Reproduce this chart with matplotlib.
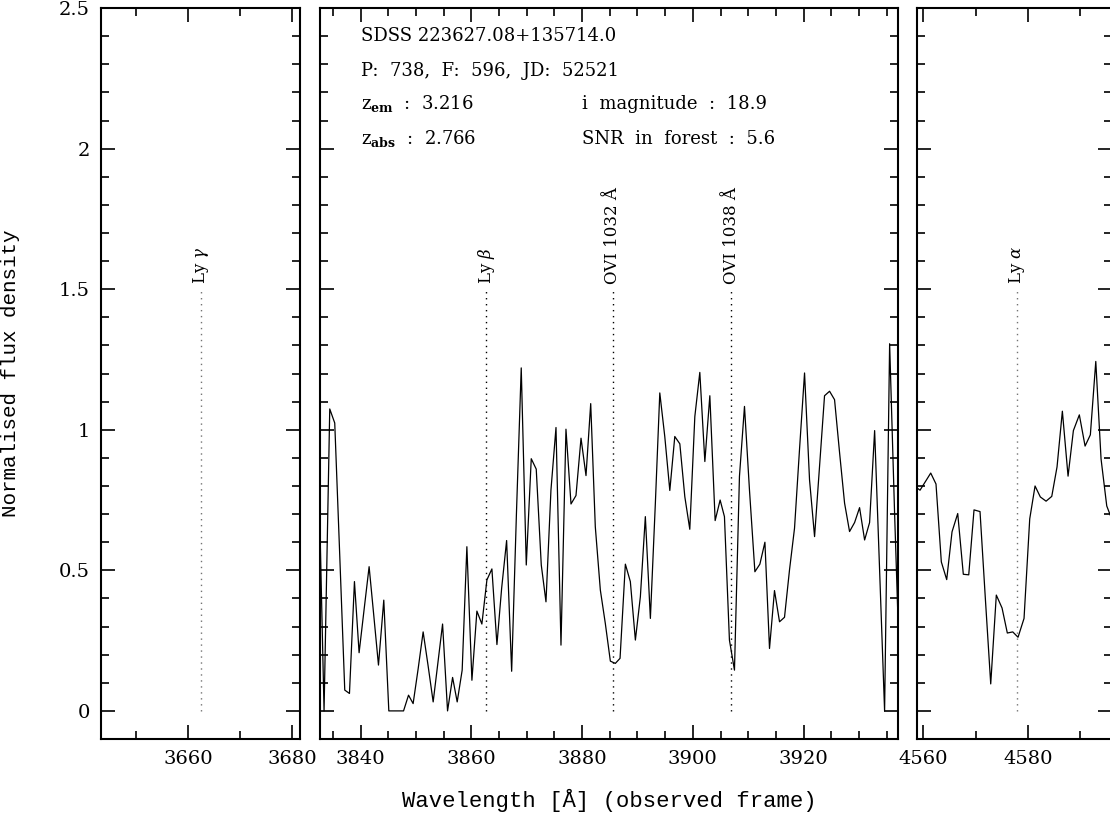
import matplotlib.pyplot as plt
from matplotlib.ticker import MultipleLocator

plt.rcParams['font.family'] = 'DejaVu Serif'
plt.rcParams['mathtext.fontset'] = 'dejavuserif'

# spectrum around the OVI / Ly beta window (observed wavelength [A], normalised flux)
wave_mid = [3831.9, 3833.38, 3834.41, 3835.31, 3836.22, 3837.12, 3837.97, 3838.87,
            3839.71, 3840.61, 3841.52, 3842.36, 3843.21, 3844.17, 3845.08, 3845.98,
            3846.89, 3847.74, 3848.64, 3849.47, 3850.38, 3851.28, 3852.18, 3853.09,
            3853.94, 3854.79, 3855.69, 3856.60, 3857.43, 3858.33, 3859.18, 3860.09,
            3860.99, 3861.89, 3862.80, 3863.70, 3864.61, 3865.46, 3866.36, 3867.27,
            3868.13, 3869.00, 3869.91, 3870.81, 3871.71, 3872.62, 3873.47, 3874.37,
            3875.28, 3876.18, 3877.08, 3877.99, 3878.89, 3879.80, 3880.70, 3881.55,
            3882.38, 3883.29, 3884.19, 3885.10, 3886.00, 3886.85, 3887.81, 3888.71,
            3889.62, 3890.52, 3891.42, 3892.33, 3893.23, 3894.03, 3894.93, 3895.84,
            3896.74, 3897.65, 3898.55, 3899.45, 3900.36, 3901.26, 3902.17, 3903.07,
            3904.03, 3904.93, 3905.71, 3906.61, 3907.52, 3908.42, 3909.33, 3910.23,
            3911.21, 3912.11, 3913.02, 3913.85, 3914.75, 3915.66, 3916.56, 3917.46,
            3918.37, 3919.27, 3920.18, 3921.08, 3921.99, 3922.89, 3923.79, 3924.70,
            3925.60, 3926.50, 3927.41, 3928.31, 3929.22, 3930.12, 3931.03, 3931.93,
            3932.84, 3933.74, 3934.64, 3935.55, 3936.45, 3937.35]
flux_mid = [1.30, 0.00, 1.074, 1.024, 0.55, 0.074, 0.062, 0.46,
            0.207, 0.36, 0.513, 0.34, 0.163, 0.394, 0.00, 0.00,
            0.00, 0.00, 0.056, 0.026, 0.15, 0.281, 0.16, 0.032,
            0.17, 0.309, 0.00, 0.119, 0.032, 0.145, 0.584, 0.109,
            0.355, 0.309, 0.466, 0.505, 0.236, 0.436, 0.606, 0.141,
            0.70, 1.22, 0.519, 0.897, 0.86, 0.519, 0.388, 0.786,
            1.008, 0.234, 1.002, 0.736, 0.766, 0.97, 0.837, 1.093,
            0.655, 0.43, 0.311, 0.177, 0.169, 0.187, 0.522, 0.46,
            0.252, 0.406, 0.691, 0.329, 0.739, 1.131, 0.976, 0.784,
            0.976, 0.95, 0.762, 0.646, 1.047, 1.204, 0.887, 1.121,
            0.677, 0.75, 0.691, 0.252, 0.145, 0.834, 1.083, 0.786,
            0.495, 0.522, 0.60, 0.222, 0.428, 0.317, 0.333, 0.501,
            0.65, 0.93, 1.202, 0.822, 0.62, 0.87, 1.121, 1.137,
            1.107, 0.92, 0.739, 0.638, 0.67, 0.723, 0.608, 0.67,
            0.997, 0.50, 0.00, 1.306, 0.70, 0.15]

# spectrum around Ly alpha
wave_red = [4558.30, 4559.37, 4560.38, 4561.42, 4562.43, 4563.45, 4564.48, 4565.50,
            4566.59, 4567.66, 4568.70, 4569.71, 4570.86, 4571.88, 4572.91, 4573.98,
            4575.08, 4576.09, 4577.13, 4578.14, 4579.29, 4580.38, 4581.40, 4582.41,
            4583.51, 4584.60, 4585.61, 4586.63, 4587.72, 4588.74, 4589.88, 4590.98,
            4591.99, 4593.03, 4594.04, 4595.13, 4596.14, 4597.2]
flux_red = [0.80, 0.785, 0.815, 0.846, 0.807, 0.53, 0.467, 0.637,
            0.702, 0.486, 0.484, 0.715, 0.709, 0.40, 0.096, 0.412,
            0.366, 0.277, 0.281, 0.262, 0.329, 0.683, 0.80, 0.761,
            0.746, 0.763, 0.868, 1.066, 0.835, 0.997, 1.053, 0.942,
            0.982, 1.243, 0.896, 0.729, 0.68, 0.70]

# absorber lines at z_abs = 2.766 (observed positions)
line_names = [r"Ly $\gamma$", r"Ly $\beta$", "OVI 1032 Å", "OVI 1038 Å", r"Ly $\alpha$"]
line_waves = [3662.5, 3862.7, 3885.5, 3906.9, 4577.9]

info_left = ["SDSS 223627.08+135714.0", "P:  738,  F:  596,  JD:  52521",
             r"z$_{\mathbf{em}}$  :  3.216", r"z$_{\mathbf{abs}}$  :  2.766"]
info_left_y = [2.40, 2.275, 2.16, 2.035]
info_right = ["i  magnitude  :  18.9", "SNR  in  forest  :  5.6"]
info_right_y = [2.16, 2.035]

fig = plt.figure(figsize=(11.1, 8.13), dpi=100)
ax1 = fig.add_axes([0.0910, 0.0910, 0.1793, 0.8991])
ax2 = fig.add_axes([0.2883, 0.0910, 0.5204, 0.8991])
ax3 = fig.add_axes([0.8264, 0.0910, 0.1750, 0.8991])


def style(ax, xlim, minor, labels=False):
    ax.set_xlim(*xlim)
    ax.set_ylim(-0.1, 2.5)
    ax.xaxis.set_major_locator(MultipleLocator(20))
    ax.xaxis.set_minor_locator(MultipleLocator(minor))
    ax.yaxis.set_major_locator(MultipleLocator(0.5))
    ax.yaxis.set_minor_locator(MultipleLocator(0.1))
    ax.yaxis.set_major_formatter(plt.FuncFormatter(lambda v, p: f"{v:g}"))
    ax.tick_params(which='both', direction='in', top=True, right=True,
                   width=1.2, labelsize=14, labelleft=labels)
    ax.tick_params(which='major', length=10, pad=8)
    ax.tick_params(which='minor', length=6)
    for s in ax.spines.values():
        s.set_linewidth(1.5)


style(ax1, (3643.2, 3681.5), 10, labels=True)
style(ax2, (3832.65, 3937.0), 5)
style(ax3, (4558.85, 4596.05), 10)

ax2.plot(wave_mid, flux_mid, color='k', lw=0.9)
ax3.plot(wave_red, flux_red, color='k', lw=0.9)

for name, w in zip(line_names, line_waves):
    for ax, col in ((ax1, '0.45'), (ax2, 'k'), (ax3, '0.45')):
        lo, hi = ax.get_xlim()
        if lo < w < hi:
            ax.plot([w, w], [0, 1.5], color=col, lw=1, ls=(0, (1, 3.3)))
            ax.text(w, 1.52, name, rotation=90, ha='center', va='bottom', fontsize=12)

for t, y in zip(info_left, info_left_y):
    ax2.text(3840, y, t, fontsize=13, va='center')
for t, y in zip(info_right, info_right_y):
    ax2.text(3880, y, t, fontsize=13, va='center')

ax1.set_ylabel("Normalised flux density", fontsize=15, family='Liberation Mono')
ax1.yaxis.set_label_coords(-0.407, 0.5)
ax2.set_xlabel("Wavelength [Å] (observed frame)", fontsize=16, family='Liberation Mono')
ax2.xaxis.set_label_coords(0.5, -0.068)

fig.savefig("out.png", dpi=100)
